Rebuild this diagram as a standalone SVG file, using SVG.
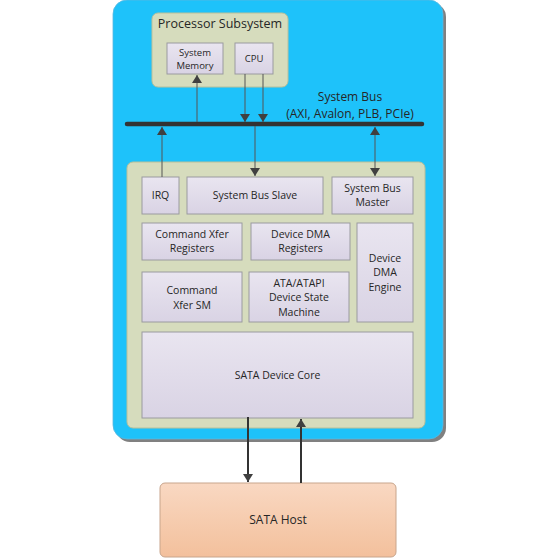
<svg xmlns="http://www.w3.org/2000/svg" width="560" height="560" viewBox="0 0 560 560">
<defs>
<linearGradient id="lav" x1="0" y1="0" x2="0" y2="1"><stop offset="0" stop-color="#E9E5F0"/><stop offset="1" stop-color="#D9D3E4"/></linearGradient>
<linearGradient id="peach" x1="0" y1="0" x2="0" y2="1"><stop offset="0" stop-color="#F9D8C2"/><stop offset="1" stop-color="#F3C09C"/></linearGradient>
<marker id="ah" markerWidth="8" markerHeight="10" refX="8" refY="5" orient="auto" markerUnits="userSpaceOnUse"><path d="M0,0 L8,5 L0,10 Z" fill="#404040"/></marker>
<marker id="ahs" markerWidth="8" markerHeight="10" refX="0" refY="5" orient="auto" markerUnits="userSpaceOnUse"><path d="M8,0 L0,5 L8,10 Z" fill="#404040"/></marker>
</defs>
<style>
.box{fill:url(#lav);stroke:#9A9AA0;stroke-width:1}
.grp{fill:#D6DCBD;stroke:#B9C09A;stroke-width:1}
.t{font-family:"Open Sans","Liberation Sans",sans-serif;font-size:10.5px;fill:#262626;text-anchor:middle}
.ts{font-size:9.5px}
.tl{font-size:12.5px}
.c{stroke:#555;stroke-width:1;fill:none}
.cb{stroke:#333;stroke-width:2;fill:none}
</style>
<rect id="bg" x="0" y="0" width="560" height="560" fill="#FFFFFF"/>
<g id="outer">
<rect x="116" y="3" width="330" height="439" rx="14" fill="#808080"/>
<rect x="113" y="0" width="330" height="439" rx="14" fill="#1EC2FA" stroke="#5AB8E0" stroke-width="0.8"/>
</g>
<g id="processor-subsystem">
<rect class="grp" x="152" y="13" width="136" height="74" rx="6"/>
<text class="t tl" x="220" y="28">Processor Subsystem</text>
</g>
<g id="system-memory">
<rect class="box" x="167" y="43" width="56" height="31"/>
<text class="t ts" x="195" y="56">System</text>
<text class="t ts" x="195" y="69">Memory</text>
</g>
<g id="cpu">
<rect class="box" x="235" y="43" width="38" height="31"/>
<text class="t ts" x="254" y="62">CPU</text>
</g>
<g id="system-bus">
<line x1="127" y1="124" x2="422" y2="124" stroke="#333" stroke-width="4.5" stroke-linecap="round"/>
<text class="t" x="350" y="101" style="font-size:12px">System Bus</text>
<text class="t" x="350" y="118" style="font-size:12px">(AXI, Avalon, PLB, PCIe)</text>
</g>
<g id="sata-device">
<rect class="grp" x="127" y="162" width="298" height="266" rx="6"/>
</g>
<g id="irq"><rect class="box" x="142" y="177" width="37" height="37"/><text class="t" x="160.5" y="199">IRQ</text></g>
<g id="system-bus-slave"><rect class="box" x="187" y="177" width="136" height="37"/><text class="t" x="255" y="199">System Bus Slave</text></g>
<g id="system-bus-master"><rect class="box" x="332" y="177" width="81" height="37"/><text class="t" x="372.5" y="192">System Bus</text><text class="t" x="372.5" y="206">Master</text></g>
<g id="command-xfer-registers"><rect class="box" x="142" y="223" width="100" height="37"/><text class="t" x="192" y="238">Command Xfer</text><text class="t" x="192" y="252">Registers</text></g>
<g id="device-dma-registers"><rect class="box" x="251" y="223" width="99" height="37"/><text class="t" x="300.5" y="238">Device DMA</text><text class="t" x="300.5" y="252">Registers</text></g>
<g id="device-dma-engine"><rect class="box" x="357" y="223" width="56" height="99"/><text class="t" x="385" y="262">Device</text><text class="t" x="385" y="276">DMA</text><text class="t" x="385" y="291">Engine</text></g>
<g id="command-xfer-sm"><rect class="box" x="142" y="272" width="100" height="50"/><text class="t" x="192" y="294">Command</text><text class="t" x="192" y="309">Xfer SM</text></g>
<g id="ata-atapi"><rect class="box" x="249" y="272" width="100" height="50"/><text class="t" x="299" y="287">ATA/ATAPI</text><text class="t" x="299" y="301">Device State</text><text class="t" x="299" y="316">Machine</text></g>
<g id="sata-device-core"><rect class="box" x="142" y="332" width="271" height="86"/><text class="t" x="277.5" y="379">SATA Device Core</text></g>
<g id="sata-host"><rect x="160" y="483" width="236" height="74" rx="5" fill="url(#peach)" stroke="#C8A58C" stroke-width="1"/><text class="t" x="278" y="524" style="font-size:12px">SATA Host</text></g>
<g id="connectors">
<line class="c" x1="197" y1="122" x2="197" y2="75" marker-end="url(#ah)"/>
<line class="c" x1="245" y1="74" x2="245" y2="122" marker-end="url(#ah)"/>
<line class="c" x1="263" y1="74" x2="263" y2="122" marker-end="url(#ah)"/>
<line class="c" x1="162" y1="177" x2="162" y2="127" marker-end="url(#ah)"/>
<line class="c" x1="255" y1="126" x2="255" y2="176" marker-end="url(#ah)"/>
<line class="c" x1="375" y1="127" x2="375" y2="176" marker-start="url(#ahs)" marker-end="url(#ah)"/>
<line class="cb" x1="248" y1="417" x2="248" y2="482" marker-end="url(#ah)"/>
<line class="cb" x1="301" y1="483" x2="301" y2="419" marker-end="url(#ah)"/>
</g>
</svg>
